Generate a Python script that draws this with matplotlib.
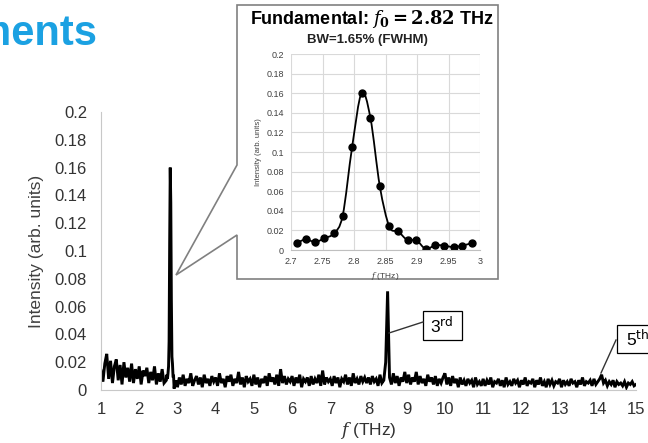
import numpy as np
import matplotlib
matplotlib.use("Agg")
import matplotlib.pyplot as plt
from matplotlib.patches import Polygon, Rectangle, PathPatch
from matplotlib.path import Path
from matplotlib.lines import Line2D

plt.rcParams['font.family'] = ['Liberation Sans', 'DejaVu Sans']
plt.rcParams['mathtext.fontset'] = 'dejavuserif'

# spectrum 1.00 .. 2.65 THz, step 0.05
noise_lo = [0.014, 0.006, 0.019, 0.026, 0.008, 0.021, 0.005, 0.017, 0.022, 0.007,
            0.018, 0.004, 0.020, 0.009, 0.016, 0.006, 0.019, 0.005, 0.015, 0.008,
            0.017, 0.004, 0.014, 0.010, 0.016, 0.005, 0.013, 0.007, 0.017, 0.004,
            0.012, 0.006, 0.015, 0.005]

# fundamental peak (inset points)
fund_f = [2.709, 2.724, 2.738, 2.753, 2.768, 2.782, 2.797, 2.812, 2.826, 2.841,
          2.856, 2.870, 2.885, 2.899, 2.914, 2.929, 2.943, 2.958, 2.972, 2.987]
fund_i = [0.007, 0.011, 0.008, 0.012, 0.017, 0.035, 0.105, 0.160, 0.135, 0.065,
          0.024, 0.019, 0.010, 0.010, 0.001, 0.005, 0.0044, 0.003, 0.0045, 0.007]

# spectrum 3.00 .. 15.00 THz, step 0.05
noise_hi = [
    0.002, 0.009, 0.004, 0.011, 0.003, 0.008, 0.005, 0.012, 0.003, 0.007,
    0.010, 0.004, 0.009, 0.002, 0.011, 0.005, 0.008, 0.003, 0.010, 0.006,
    0.009, 0.003, 0.012, 0.005, 0.008, 0.002, 0.010, 0.006, 0.011, 0.003,
    0.008, 0.005, 0.013, 0.004, 0.009, 0.002, 0.010, 0.006, 0.008, 0.003,
    0.011, 0.004, 0.009, 0.002, 0.008, 0.005, 0.010, 0.003, 0.012, 0.006,
    0.009, 0.004, 0.011, 0.003, 0.015, 0.005, 0.010, 0.004, 0.008, 0.006,
    0.010, 0.003, 0.009, 0.005, 0.011, 0.002, 0.008, 0.006, 0.009, 0.003,
    0.010, 0.004, 0.008, 0.005, 0.011, 0.003, 0.014, 0.004, 0.009, 0.006,
    0.008, 0.003, 0.010, 0.005, 0.009, 0.002, 0.008, 0.006, 0.011, 0.004,
    0.009, 0.003, 0.012, 0.005, 0.008, 0.004, 0.010, 0.006, 0.009, 0.005,
    0.009, 0.004, 0.010, 0.006, 0.008, 0.003, 0.011, 0.005, 0.007, 0.020,
    0.071, 0.009, 0.004, 0.012, 0.005, 0.010, 0.003, 0.009, 0.006, 0.013,
    0.005, 0.011, 0.004, 0.009, 0.006, 0.013, 0.004, 0.010, 0.005, 0.008,
    0.003, 0.011, 0.006, 0.009, 0.004, 0.010, 0.003, 0.008, 0.005, 0.009,
    0.012, 0.004, 0.009, 0.003, 0.010, 0.005, 0.008, 0.002, 0.009, 0.004,
    0.007, 0.003, 0.008, 0.005, 0.007, 0.002, 0.009, 0.004, 0.006, 0.003,
    0.008, 0.003, 0.007, 0.004, 0.009, 0.002, 0.006, 0.005, 0.008, 0.003,
    0.007, 0.002, 0.009, 0.004, 0.006, 0.003, 0.008, 0.005, 0.007, 0.002,
    0.007, 0.004, 0.009, 0.003, 0.006, 0.005, 0.008, 0.002, 0.007, 0.004,
    0.009, 0.003, 0.006, 0.002, 0.008, 0.004, 0.007, 0.003, 0.006, 0.005,
    0.008, 0.002, 0.007, 0.004, 0.006, 0.003, 0.008, 0.005, 0.006, 0.002,
    0.007, 0.004, 0.009, 0.003, 0.006, 0.005, 0.007, 0.003, 0.008, 0.004,
    0.006, 0.008, 0.011, 0.005, 0.007, 0.003, 0.006, 0.004, 0.007, 0.002,
    0.006, 0.004, 0.005, 0.003, 0.006, 0.002, 0.005, 0.004, 0.006, 0.003,
    0.004]

f_lo = np.round(1.0 + 0.05 * np.arange(len(noise_lo)), 2)
f_hi = np.round(3.0 + 0.05 * np.arange(len(noise_hi)), 2)
spec_f = np.concatenate([f_lo, fund_f, f_hi])
spec_i = np.concatenate([noise_lo, fund_i, noise_hi])

W, H = 648, 443
def px(x, y):
    return (x / W, 1 - y / H)

fig = plt.figure(figsize=(6.48, 4.43), dpi=100)

# slide title, cut off at the left edge (as in the slide)
fig.text(97 / W, 1 - 45 / H, "Measurements", ha='right', va='baseline',
         fontsize=30, fontweight='bold', color='#1BA1E2')

# main spectrum
ax = fig.add_axes([101 / W, 1 - 390 / H, 535 / W, 278 / H])
ax.plot(spec_f, spec_i, color='black', lw=2.1, solid_joinstyle='miter')
ax.set_xlim(1, 15)
ax.set_ylim(0, 0.2)
ax.set_xticks(range(1, 16))
ax.set_yticks(np.arange(0, 0.201, 0.02))
ax.set_yticklabels(['0', '0.02', '0.04', '0.06', '0.08', '0.1', '0.12',
                    '0.14', '0.16', '0.18', '0.2'])
ax.tick_params(length=0, labelsize=12, colors='#333333')
ax.tick_params(axis='y', pad=10)
ax.tick_params(axis='x', pad=9)
for s in ['top', 'right']:
    ax.spines[s].set_visible(False)
for s in ['left', 'bottom']:
    ax.spines[s].set_color('#c8c8c8')
ax.set_ylabel("Intensity (arb. units)", fontsize=12.5, color='#404040', labelpad=8)
ax.set_xlabel(r"$f$ (THz)", fontsize=12.5, color='#333333', labelpad=2)

# callout box for the fundamental
callout = Polygon([px(237, 5), px(498, 5), px(498, 279), px(237, 279),
                   px(237, 235), px(176, 275), px(237, 165)], closed=True,
                  transform=fig.transFigure, facecolor='white',
                  edgecolor='#808080', lw=1.2, zorder=2)
fig.add_artist(callout)

fig.text(372 / W, 1 - 19 / H,
         r"Fundamental: $\mathbf{\mathit{f}_0 = 2.82}$ THz",
         ha='center', va='center', fontsize=13, fontweight='bold', zorder=4)
fig.text(367 / W, 1 - 40 / H, "BW=1.65% (FWHM)", ha='center', va='center',
         fontsize=9.5, fontweight='bold', color='#222222', zorder=4)

ins = fig.add_axes([291 / W, 1 - 250 / H, 189 / W, 196 / H], zorder=3)
ins.set_facecolor('none')

# smooth curve through the points (Excel-like), as a bezier path
pts = np.column_stack([fund_f, fund_i])
verts = [tuple(pts[0])]
codes = [Path.MOVETO]
n = len(pts)
for k in range(n - 1):
    p0 = pts[max(k - 1, 0)]
    p1 = pts[k]
    p2 = pts[k + 1]
    p3 = pts[min(k + 2, n - 1)]
    c1 = p1 + (p2 - p0) / 6
    c2 = p2 - (p3 - p1) / 6
    verts += [tuple(c1), tuple(c2), tuple(p2)]
    codes += [Path.CURVE4] * 3
ins.add_patch(PathPatch(Path(verts, codes), facecolor='none',
                        edgecolor='black', lw=1.3))
ins.plot(fund_f, fund_i, 'o', color='black', ms=5)
ins.set_xlim(2.7, 3.0)
ins.set_ylim(0, 0.2)
ins.set_xticks([2.7, 2.75, 2.8, 2.85, 2.9, 2.95, 3.0])
ins.set_xticklabels(['2.7', '2.75', '2.8', '2.85', '2.9', '2.95', '3'])
ins.set_yticks(np.arange(0, 0.201, 0.02))
ins.set_yticklabels(['0', '0.02', '0.04', '0.06', '0.08', '0.1', '0.12',
                     '0.14', '0.16', '0.18', '0.2'])
ins.grid(True, color='#d9d9d9', lw=0.8)
ins.set_axisbelow(True)
for s in ['top', 'right', 'left']:
    ins.spines[s].set_visible(False)
ins.spines['bottom'].set_color('#bfbfbf')
ins.tick_params(length=0, labelsize=6.5, colors='#404040', pad=5)
ins.set_ylabel("Intensity (arb. units)", fontsize=5.5, color='#404040', labelpad=3)
ins.set_xlabel(r"$f$ (THz)", fontsize=6, color='#404040', labelpad=3)

# 3rd harmonic label
fig.add_artist(Line2D([389 / W, 423 / W], [1 - 333 / H, 1 - 322 / H],
                      transform=fig.transFigure, color='#333333', lw=1))
fig.add_artist(Rectangle(px(423, 340), 39 / W, 29 / H, transform=fig.transFigure,
                         facecolor='white', edgecolor='black', lw=0.9))
fig.text(442 / W, 1 - 326 / H, r"3$^{\mathsf{rd}}$", ha='center', va='center',
         fontsize=12.5)

# 5th harmonic label
fig.add_artist(Line2D([616 / W, 601 / W], [1 - 340 / H, 1 - 373 / H],
                      transform=fig.transFigure, color='#333333', lw=1))
fig.add_artist(Rectangle(px(617, 353), 40 / W, 28 / H, transform=fig.transFigure,
                         facecolor='white', edgecolor='black', lw=0.9))
fig.text(626 / W, 1 - 339 / H, r"5$^{\mathsf{th}}$", ha='left', va='center',
         fontsize=12.5)

fig.savefig("out.png", dpi=100)
